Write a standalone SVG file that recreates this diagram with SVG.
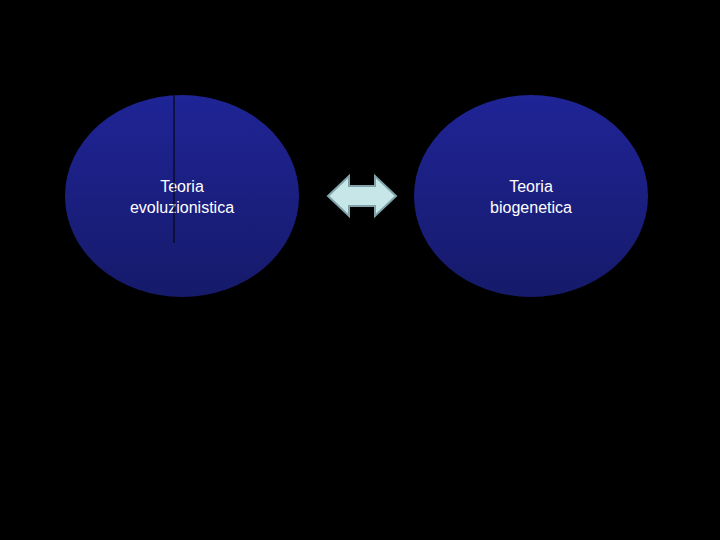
<svg xmlns="http://www.w3.org/2000/svg" width="720" height="540" viewBox="0 0 720 540">
<style>
.n{fill:url(#g)}
.t{font-family:"Liberation Sans",Arial,sans-serif;font-size:16px;fill:#fff;text-anchor:middle}
</style>
<defs><linearGradient id="g" x1="0" y1="0" x2="0" y2="1"><stop offset="0" stop-color="#1f2496"/><stop offset="1" stop-color="#161a6a"/></linearGradient></defs>
<rect width="720" height="540" fill="#000"/>
<g id="n1"><ellipse class="n" cx="182" cy="196" rx="117" ry="101"/><text class="t" x="182" y="192">Teoria</text><text class="t" x="182" y="213">evoluzionistica</text></g>
<g id="n2"><ellipse class="n" cx="531" cy="196" rx="117" ry="101"/><text class="t" x="531" y="192">Teoria</text><text class="t" x="531" y="213">biogenetica</text></g>
<g id="connectors">
<line x1="174" y1="95" x2="174" y2="243" stroke="#000" stroke-width="1"/>
<path d="M328,196 L349,176 L349,186 L375,186 L375,176 L396,196 L375,216 L375,206 L349,206 L349,216 Z" fill="#c6e6e8" stroke="#7fa3a8" stroke-width="2"/>
</g>
</svg>
